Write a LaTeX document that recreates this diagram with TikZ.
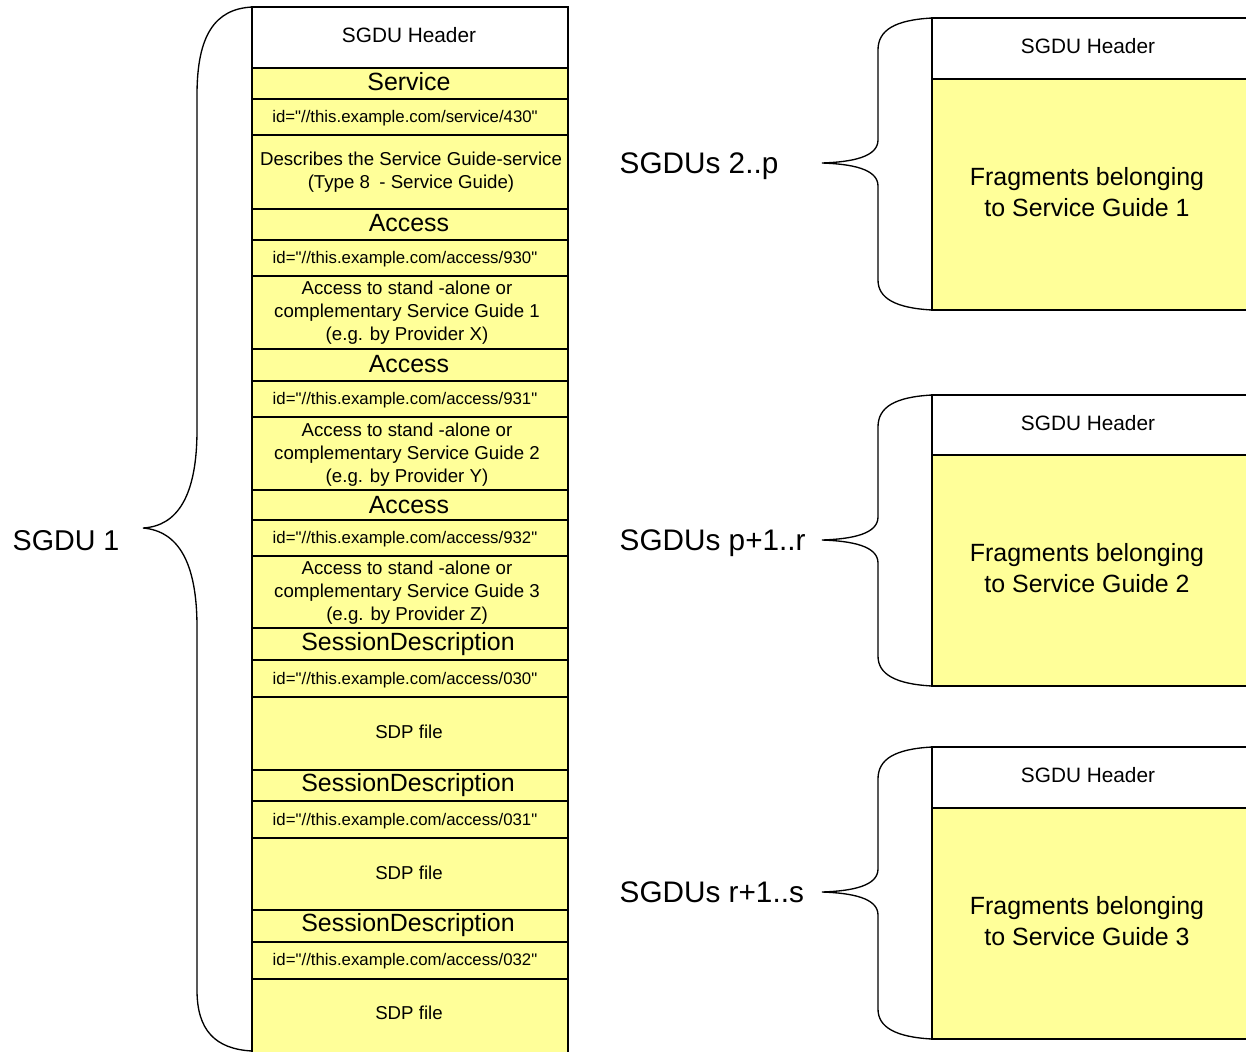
\documentclass[tikz,border=0pt]{standalone}
\usepackage{fontspec}
\setmainfont{Liberation Sans}
\usetikzlibrary{positioning}
\definecolor{sgyellow}{RGB}{255,255,153}
\tikzset{
  box/.style={line width=1.2pt},
  brace/.style={line width=1pt},
  hdr/.style={font=\fontsize{15.6}{18}\selectfont},
  ttl/.style={font=\fontsize{18.7}{22}\selectfont},
  txt/.style={font=\fontsize{14}{17.25}\selectfont, align=center},
  ident/.style={font=\fontsize{12.6}{15}\selectfont},
  big/.style={font=\fontsize{21.5}{26}\selectfont},
  grp/.style={font=\fontsize{22.3}{26}\selectfont, anchor=west},
  frag/.style={font=\fontsize{18.7}{23.25}\selectfont, align=center}
}
\newcommand{\q}{\textquotedbl}

\begin{document}
\begin{tikzpicture}[x=0.75pt,y=-0.75pt]
\useasboundingbox (0,0) rectangle (1246,1051);
\clip (0,0) rectangle (1246,1051);

% SGDU 1
\draw [box, fill=white] (252,7) rectangle (568,68);
\draw [box, fill=sgyellow] (252,68) rectangle (568,1053);
\draw [box] (252,99) -- (568,99);
\draw [box] (252,135) -- (568,135);
\draw [box] (252,209) -- (568,209);
\draw [box] (252,240) -- (568,240);
\draw [box] (252,276) -- (568,276);
\draw [box] (252,349) -- (568,349);
\draw [box] (252,381) -- (568,381);
\draw [box] (252,417) -- (568,417);
\draw [box] (252,490) -- (568,490);
\draw [box] (252,520) -- (568,520);
\draw [box] (252,556) -- (568,556);
\draw [box] (252,628) -- (568,628);
\draw [box] (252,660) -- (568,660);
\draw [box] (252,697) -- (568,697);
\draw [box] (252,770) -- (568,770);
\draw [box] (252,801) -- (568,801);
\draw [box] (252,838) -- (568,838);
\draw [box] (252,910) -- (568,910);
\draw [box] (252,942) -- (568,942);
\draw [box] (252,979) -- (568,979);

\node [hdr] (hdr1) at (409,35) {SGDU Header};
\node [ttl] (svc) at (409,82) {Service};
\node [ident] (svcid) at (405,118) {id=\q//this.example.com/service/430\q};
\node [txt] (svcdesc) at (411,172) {Describes the Service Guide-service\\(Type 8\enspace- Service Guide)};
\node [ttl] (acc1) at (409,223) {Access};
\node [ident] (acc1id) at (405,259) {id=\q//this.example.com/access/930\q};
\node [txt] (acc1desc) at (407,313) {Access to stand -alone or\\complementary Service Guide 1\\(e.g. by Provider X)};
\node [ttl] (acc2) at (409,364) {Access};
\node [ident] (acc2id) at (405,400) {id=\q//this.example.com/access/931\q};
\node [txt] (acc2desc) at (407,455) {Access to stand -alone or\\complementary Service Guide 2\\(e.g. by Provider Y)};
\node [ttl] (acc3) at (409,505) {Access};
\node [ident] (acc3id) at (405,539) {id=\q//this.example.com/access/932\q};
\node [txt] (acc3desc) at (407,593) {Access to stand -alone or\\complementary Service Guide 3\\(e.g. by Provider Z)};
\node [ttl] (sess1) at (408,644) {SessionDescription};
\node [ident] (sess1id) at (405,680) {id=\q//this.example.com/access/030\q};
\node [txt] (sdp1) at (409,732) {SDP file};
\node [ttl] (sess2) at (408,785) {SessionDescription};
\node [ident] (sess2id) at (405,821) {id=\q//this.example.com/access/031\q};
\node [txt] (sdp2) at (409,873) {SDP file};
\node [ttl] (sess3) at (408,925) {SessionDescription};
\node [ident] (sess3id) at (405,961) {id=\q//this.example.com/access/032\q};
\node [txt] (sdp3) at (409,1013) {SDP file};

\draw [brace] (252,7) .. controls (215,9) and (197,35) .. (197,95) -- (197,430)
  .. controls (197,495) and (178,526) .. (143,528)
  .. controls (178,531) and (197,562) .. (197,627) -- (197,990)
  .. controls (197,1030) and (215,1049) .. (252,1051);
\node [big] (sgdu1) at (66,541) {SGDU 1};

% SGDUs 2..p
\draw [box, fill=white] (932,18) rectangle (1252,79);
\draw [box, fill=sgyellow] (932,79) rectangle (1252,310);
\node [hdr] (hdr2) at (1088,46) {SGDU Header};
\node [frag] (frag1) at (1087,192) {Fragments belonging\\to Service Guide 1};
\draw [brace] (932,18) .. controls (895,20) and (878,30) .. (878,50) -- (878,140)
  .. controls (878,157) and (852,162) .. (822,163)
  .. controls (852,164) and (878,169) .. (878,186) -- (878,280)
  .. controls (878,298) and (895,308) .. (932,310);
\node [grp] (sgdus1) at (615,166) {SGDUs 2..p};

% SGDUs p+1..r
\draw [box, fill=white] (932,395) rectangle (1252,455);
\draw [box, fill=sgyellow] (932,455) rectangle (1252,686);
\node [hdr] (hdr3) at (1088,423) {SGDU Header};
\node [frag] (frag2) at (1087,568) {Fragments belonging\\to Service Guide 2};
\draw [brace] (932,395) .. controls (895,397) and (878,407) .. (878,427) -- (878,517)
  .. controls (878,534) and (852,539) .. (822,540)
  .. controls (852,541) and (878,546) .. (878,563) -- (878,656)
  .. controls (878,674) and (895,684) .. (932,686);
\node [grp] (sgdus2) at (615,543) {SGDUs p+1..r};

% SGDUs r+1..s
\draw [box, fill=white] (932,747) rectangle (1252,808);
\draw [box, fill=sgyellow] (932,808) rectangle (1252,1039);
\node [hdr] (hdr4) at (1088,775) {SGDU Header};
\node [frag] (frag3) at (1087,921) {Fragments belonging\\to Service Guide 3};
\draw [brace] (932,747) .. controls (895,749) and (878,759) .. (878,779) -- (878,869)
  .. controls (878,886) and (852,891) .. (822,892)
  .. controls (852,893) and (878,898) .. (878,915) -- (878,1009)
  .. controls (878,1027) and (895,1037) .. (932,1039);
\node [grp] (sgdus3) at (615,892) {SGDUs r+1..s};

\end{tikzpicture}
\end{document}
